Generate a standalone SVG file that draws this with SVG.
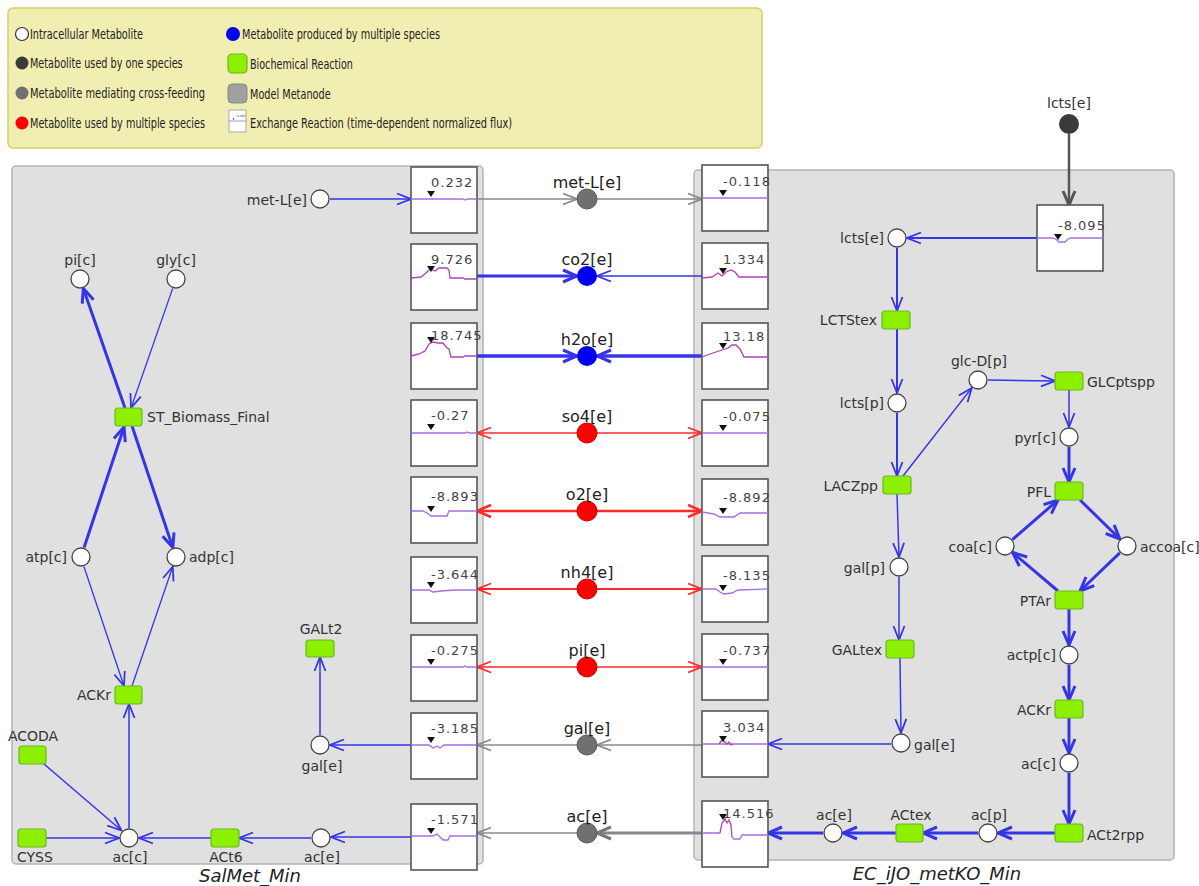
<svg xmlns="http://www.w3.org/2000/svg" width="1199" height="886" viewBox="0 0 1199 886">
<style>
text{font-family:"DejaVu Sans","Liberation Sans",sans-serif;}
.panel{fill:#e0e0e0;stroke:#b4b4b4;stroke-width:1.5;}
.ex{fill:#fff;stroke:#555;stroke-width:1.6;}
.m{fill:#fff;stroke:#444;stroke-width:1.3;}
.rx{fill:#8cf000;stroke:#6cb820;stroke-width:1.2;}
.lbl{font-size:14px;fill:#333;}
.big{font-size:16px;fill:#222;}
.val{font-size:13px;fill:#444;letter-spacing:1px;}
.leg{font-size:13.5px;fill:#222;}
.plot{fill:none;stroke:#a070e0;stroke-width:1.3;}
.plotm{fill:none;stroke:#b040b8;stroke-width:1.3;}
.tri{fill:#111;}
.title{font-size:18px;font-style:italic;fill:#222;}
.eb{stroke:#3535e8;fill:none;}
.er{stroke:#ff2a2a;fill:none;}
.eg{stroke:#888;fill:none;}
.ed{stroke:#555;fill:none;}
</style>
<defs>
<marker id="ab" viewBox="-16 -8 18 16" refX="0" refY="0" markerWidth="18" markerHeight="16" markerUnits="userSpaceOnUse" orient="auto"><path d="M-14,-5.5 L0,0 L-14,5.5" fill="none" stroke="#3535e8" stroke-width="1.8"/></marker>
<marker id="abT" viewBox="-16 -8 18 16" refX="0" refY="0" markerWidth="18" markerHeight="16" markerUnits="userSpaceOnUse" orient="auto"><path d="M-14,-6 L0,0 L-14,6" fill="none" stroke="#3535e8" stroke-width="3"/></marker>
<marker id="ar" viewBox="-16 -8 18 16" refX="0" refY="0" markerWidth="18" markerHeight="16" markerUnits="userSpaceOnUse" orient="auto"><path d="M-14,-5.5 L0,0 L-14,5.5" fill="none" stroke="#ff2a2a" stroke-width="1.8"/></marker>
<marker id="arT" viewBox="-16 -8 18 16" refX="0" refY="0" markerWidth="18" markerHeight="16" markerUnits="userSpaceOnUse" orient="auto"><path d="M-14,-6 L0,0 L-14,6" fill="none" stroke="#ff2a2a" stroke-width="2.6"/></marker>
<marker id="ag" viewBox="-16 -8 18 16" refX="0" refY="0" markerWidth="18" markerHeight="16" markerUnits="userSpaceOnUse" orient="auto"><path d="M-14,-5.5 L0,0 L-14,5.5" fill="none" stroke="#888" stroke-width="1.8"/></marker>
<marker id="agT" viewBox="-16 -8 18 16" refX="0" refY="0" markerWidth="18" markerHeight="16" markerUnits="userSpaceOnUse" orient="auto"><path d="M-14,-6 L0,0 L-14,6" fill="none" stroke="#777" stroke-width="3"/></marker>
<marker id="ad" viewBox="-16 -8 18 16" refX="0" refY="0" markerWidth="18" markerHeight="16" markerUnits="userSpaceOnUse" orient="auto"><path d="M-14,-6 L0,0 L-14,6" fill="none" stroke="#555" stroke-width="3"/></marker>
</defs>
<rect width="1199" height="886" fill="#fff"/>

<!-- Legend -->
<g id="legend">
<rect x="8" y="8" width="754" height="140" rx="5" fill="#f1eeb2" stroke="#d6d06a" stroke-width="1.5"/>
<circle cx="22" cy="34" r="6.5" fill="#fff" stroke="#333" stroke-width="1.2"/>
<text class="leg" transform="translate(30,39) scale(0.72,1)" textLength="157" lengthAdjust="spacingAndGlyphs">Intracellular Metabolite</text>
<circle cx="22" cy="63" r="6.5" fill="#3a3a3a"/>
<text class="leg" transform="translate(30,68) scale(0.72,1)" textLength="212" lengthAdjust="spacingAndGlyphs">Metabolite used by one species</text>
<circle cx="22" cy="93" r="6.5" fill="#707070"/>
<text class="leg" transform="translate(30,98) scale(0.72,1)" textLength="243" lengthAdjust="spacingAndGlyphs">Metabolite mediating cross-feeding</text>
<circle cx="22" cy="123" r="6.5" fill="#f00"/>
<text class="leg" transform="translate(30,128) scale(0.72,1)" textLength="243" lengthAdjust="spacingAndGlyphs">Metabolite used by multiple species</text>
<circle cx="233" cy="34" r="7" fill="#00e"/>
<text class="leg" transform="translate(242,39) scale(0.72,1)" textLength="275" lengthAdjust="spacingAndGlyphs">Metabolite produced by multiple species</text>
<rect x="228" y="54" width="19" height="19" rx="4" class="rx"/>
<text class="leg" transform="translate(250,69) scale(0.72,1)" textLength="143" lengthAdjust="spacingAndGlyphs">Biochemical Reaction</text>
<rect x="228" y="84" width="19" height="19" rx="4" fill="#a0a0a0" stroke="#888" stroke-width="1"/>
<text class="leg" transform="translate(250,99) scale(0.72,1)" textLength="112" lengthAdjust="spacingAndGlyphs">Model Metanode</text>
<rect x="229" y="110" width="17" height="22" fill="#fff" stroke="#999" stroke-width="0.8"/>
<path d="M229,121 H246" stroke="#a070e0" stroke-width="0.8"/>
<path d="M233.5,120 l-1,-1.5 h2 z" fill="#111"/>
<text x="236" y="117" font-size="3" fill="#444">-8.095</text>
<text class="leg" transform="translate(250,128) scale(0.72,1)" textLength="364" lengthAdjust="spacingAndGlyphs">Exchange Reaction (time-dependent normalized flux)</text>
</g>

<!-- Panels -->
<g id="SalMet_Min">
<rect class="panel" x="12" y="166" width="471" height="698" rx="4"/>
<text class="title" x="250" y="882" text-anchor="middle">SalMet_Min</text>
</g>
<g id="EC_iJO_metKO_Min">
<rect class="panel" x="694" y="170" width="480" height="690" rx="4"/>
<text class="title" x="937" y="880" text-anchor="middle">EC_iJO_metKO_Min</text>
</g>

<!-- Connectors -->
<g id="connectors">
<!-- left panel -->
<line class="eb" stroke-width="1.5" x1="330" y1="199" x2="411" y2="199" marker-end="url(#ab)"/>
<line class="eb" stroke-width="1.3" x1="172.7" y1="288.4" x2="131" y2="408" marker-end="url(#ab)"/>
<line class="eb" stroke-width="3" x1="125" y1="408" x2="83.3" y2="288.4" marker-end="url(#abT)"/>
<line class="eb" stroke-width="3" x1="84.1" y1="547.5" x2="124" y2="427" marker-end="url(#abT)"/>
<line class="eb" stroke-width="3" x1="132" y1="426" x2="172.8" y2="547.5" marker-end="url(#abT)"/>
<line class="eb" stroke-width="1.3" x1="83.9" y1="566.5" x2="124" y2="686" marker-end="url(#ab)"/>
<line class="eb" stroke-width="1.3" x1="132" y1="686" x2="172.8" y2="566.5" marker-end="url(#ab)"/>
<line class="eb" stroke-width="1.5" x1="129" y1="828" x2="129" y2="704" marker-end="url(#ab)"/>
<line class="eb" stroke-width="1.5" x1="44" y1="764" x2="121.5" y2="830.5" marker-end="url(#ab)"/>
<line class="eb" stroke-width="1.5" x1="46" y1="838" x2="119" y2="838" marker-end="url(#ab)"/>
<line class="eb" stroke-width="1.5" x1="211" y1="838" x2="139" y2="838" marker-end="url(#ab)"/>
<line class="eb" stroke-width="1.5" x1="311" y1="838" x2="239" y2="838" marker-end="url(#ab)"/>
<line class="eb" stroke-width="1.5" x1="411" y1="837" x2="331" y2="837" marker-end="url(#ab)"/>
<line class="eb" stroke-width="1.5" x1="411" y1="745" x2="330" y2="745" marker-end="url(#ab)"/>
<line class="eb" stroke-width="1.5" x1="320" y1="735" x2="320" y2="657" marker-end="url(#ab)"/>
<!-- middle -->
<line class="eg" stroke-width="1.5" x1="477" y1="199" x2="577" y2="199" marker-end="url(#ag)"/>
<line class="eg" stroke-width="1.5" x1="597" y1="199" x2="702" y2="199" marker-end="url(#ag)"/>
<line class="eb" stroke-width="3" x1="477" y1="276" x2="577" y2="276" marker-end="url(#abT)"/>
<line class="eb" stroke-width="1.5" x1="702" y1="276" x2="597" y2="276" marker-end="url(#ab)"/>
<line class="eb" stroke-width="3.5" x1="477" y1="356" x2="577" y2="356" marker-end="url(#abT)"/>
<line class="eb" stroke-width="3.5" x1="702" y1="356" x2="597" y2="356" marker-end="url(#abT)"/>
<line class="er" stroke-width="1.5" x1="577" y1="433" x2="477" y2="433" marker-end="url(#ar)"/>
<line class="er" stroke-width="1.5" x1="597" y1="433" x2="702" y2="433" marker-end="url(#ar)"/>
<line class="er" stroke-width="2.6" x1="577" y1="511" x2="477" y2="511" marker-end="url(#arT)"/>
<line class="er" stroke-width="2.6" x1="597" y1="511" x2="702" y2="511" marker-end="url(#arT)"/>
<line class="er" stroke-width="2" x1="577" y1="589" x2="477" y2="589" marker-end="url(#ar)"/>
<line class="er" stroke-width="2" x1="597" y1="589" x2="702" y2="589" marker-end="url(#ar)"/>
<line class="er" stroke-width="1.5" x1="577" y1="667" x2="477" y2="667" marker-end="url(#ar)"/>
<line class="er" stroke-width="1.5" x1="597" y1="667" x2="702" y2="667" marker-end="url(#ar)"/>
<line class="eg" stroke-width="1.5" x1="702" y1="745" x2="597" y2="745" marker-end="url(#ag)"/>
<line class="eg" stroke-width="1.5" x1="577" y1="745" x2="477" y2="745" marker-end="url(#ag)"/>
<line class="eg" stroke-width="3" stroke="#777" x1="702" y1="833" x2="597" y2="833" marker-end="url(#agT)"/>
<line class="eg" stroke-width="1.5" x1="577" y1="833" x2="477" y2="833" marker-end="url(#ag)"/>
<!-- right panel -->
<line class="ed" stroke-width="2.5" x1="1069" y1="134" x2="1069" y2="205" marker-end="url(#ad)"/>
<line class="eb" stroke-width="2" x1="1037" y1="238" x2="907" y2="238" marker-end="url(#ab)"/>
<line class="eb" stroke-width="2" x1="897" y1="248" x2="897" y2="311" marker-end="url(#ab)"/>
<line class="eb" stroke-width="2" x1="897" y1="329" x2="897" y2="393" marker-end="url(#ab)"/>
<line class="eb" stroke-width="2" x1="897" y1="413" x2="897" y2="476" marker-end="url(#ab)"/>
<line class="eb" stroke-width="1.5" x1="903" y1="476" x2="971.8" y2="387.9" marker-end="url(#ab)"/>
<line class="eb" stroke-width="1.5" x1="988" y1="380" x2="1055" y2="381" marker-end="url(#ab)"/>
<line class="eb" stroke-width="1.5" x1="1069" y1="390" x2="1069" y2="427" marker-end="url(#ab)"/>
<line class="eb" stroke-width="3" x1="1069" y1="447" x2="1069" y2="482" marker-end="url(#abT)"/>
<line class="eb" stroke-width="3" x1="1080" y1="500" x2="1119.9" y2="539" marker-end="url(#abT)"/>
<line class="eb" stroke-width="3" x1="1012.5" y1="539.5" x2="1058" y2="500" marker-end="url(#abT)"/>
<line class="eb" stroke-width="3" x1="1119.8" y1="552.9" x2="1080" y2="591" marker-end="url(#abT)"/>
<line class="eb" stroke-width="3" x1="1058" y1="591" x2="1012.6" y2="552.5" marker-end="url(#abT)"/>
<line class="eb" stroke-width="3" x1="1069" y1="609" x2="1069" y2="645" marker-end="url(#abT)"/>
<line class="eb" stroke-width="3" x1="1069" y1="665" x2="1069" y2="700" marker-end="url(#abT)"/>
<line class="eb" stroke-width="3" x1="1069" y1="718" x2="1069" y2="753" marker-end="url(#abT)"/>
<line class="eb" stroke-width="3" x1="1069" y1="773" x2="1069" y2="824" marker-end="url(#abT)"/>
<line class="eb" stroke-width="3" x1="1055" y1="833" x2="998" y2="833" marker-end="url(#abT)"/>
<line class="eb" stroke-width="3" x1="978" y1="833" x2="923" y2="833" marker-end="url(#abT)"/>
<line class="eb" stroke-width="3" x1="896" y1="833" x2="843" y2="833" marker-end="url(#abT)"/>
<line class="eb" stroke-width="3" x1="823" y1="833" x2="768" y2="833" marker-end="url(#abT)"/>
<line class="eb" stroke-width="1.5" x1="897" y1="494" x2="899" y2="557" marker-end="url(#ab)"/>
<line class="eb" stroke-width="1.5" x1="899" y1="577" x2="899" y2="640" marker-end="url(#ab)"/>
<line class="eb" stroke-width="1.5" x1="900" y1="658" x2="901" y2="733" marker-end="url(#ab)"/>
<line class="eb" stroke-width="1.5" x1="891" y1="744" x2="768" y2="744" marker-end="url(#ab)"/>
</g>

<!-- Left panel nodes -->
<g id="n_metL_e_L"><circle class="m" cx="320" cy="199" r="9"/><text class="lbl" x="307" y="205" text-anchor="end">met-L[e]</text></g>
<g id="n_pi_c"><circle class="m" cx="80" cy="279" r="9"/><text class="lbl" x="80" y="265" text-anchor="middle">pi[c]</text></g>
<g id="n_gly_c"><circle class="m" cx="176" cy="279" r="9"/><text class="lbl" x="176" y="265" text-anchor="middle">gly[c]</text></g>
<g id="n_ST_Biomass_Final"><rect class="rx" x="115" y="408" width="27" height="18" rx="3"/><text class="lbl" x="147" y="422">ST_Biomass_Final</text></g>
<g id="n_atp_c"><circle class="m" cx="81" cy="557" r="9"/><text class="lbl" x="67" y="562" text-anchor="end">atp[c]</text></g>
<g id="n_adp_c"><circle class="m" cx="176" cy="557" r="9"/><text class="lbl" x="189" y="562">adp[c]</text></g>
<g id="n_ACKr_L"><rect class="rx" x="115" y="686" width="27" height="18" rx="3"/><text class="lbl" x="111" y="700" text-anchor="end">ACKr</text></g>
<g id="n_ACODA"><rect class="rx" x="19" y="746" width="27" height="18" rx="3"/><text class="lbl" x="33" y="741" text-anchor="middle">ACODA</text></g>
<g id="n_CYSS"><rect class="rx" x="18" y="829" width="28" height="18" rx="3"/><text class="lbl" x="17" y="862">CYSS</text></g>
<g id="n_ac_c_L"><circle class="m" cx="129" cy="838" r="9"/><text class="lbl" x="130" y="862" text-anchor="middle">ac[c]</text></g>
<g id="n_ACt6"><rect class="rx" x="211" y="829" width="28" height="18" rx="3"/><text class="lbl" x="226" y="862" text-anchor="middle">ACt6</text></g>
<g id="n_ac_e_L"><circle class="m" cx="321" cy="838" r="9"/><text class="lbl" x="322" y="862" text-anchor="middle">ac[e]</text></g>
<g id="n_gal_e_L"><circle class="m" cx="320" cy="745" r="9"/><text class="lbl" x="322" y="771" text-anchor="middle">gal[e]</text></g>
<g id="n_GALt2"><rect class="rx" x="306" y="640" width="28" height="17" rx="3"/><text class="lbl" x="321" y="634" text-anchor="middle">GALt2</text></g>

<!-- Left exchange boxes -->
<g id="ex_L_metL" transform="translate(411,167)"><rect class="ex" width="66" height="66"/><path class="plot" d="M0,32 H52 L54,33 L56,32 H66"/><path class="tri" d="M16,24 H24 L20,30 Z"/><text class="val" x="20" y="20">0.232</text></g>
<g id="ex_L_co2" transform="translate(411,244)"><rect class="ex" width="66" height="66"/><path class="plotm" d="M0,34 L10,33 L15,29 L19,25 L24,27 L28,24 L36,24 L38,26 L39,34 L52,34 L54,35 L66,35"/><path class="tri" d="M16,22 H24 L20,28 Z"/><text class="val" x="20" y="20">9.726</text></g>
<g id="ex_L_h2o" transform="translate(411,323)"><rect class="ex" width="66" height="66"/><path class="plotm" d="M0,33 L8,31 L14,28 L18,21 L22,19 L27,20 L32,20 L36,25 L38,26 L40,34 L52,34 L54,33 L66,33"/><path class="tri" d="M16,14 H24 L20,20 Z"/><text class="val" x="20" y="17">18.745</text></g>
<g id="ex_L_so4" transform="translate(411,400)"><rect class="ex" width="66" height="66"/><path class="plot" d="M0,33 H54 L56,32 L58,33 H66"/><path class="tri" d="M16,24 H24 L20,30 Z"/><text class="val" x="20" y="20">-0.27</text></g>
<g id="ex_L_o2" transform="translate(411,477)"><rect class="ex" width="66" height="66"/><path class="plot" d="M0,34 L12,34 L16,36 L20,39 L36,39 L38,34 L66,34"/><path class="tri" d="M16,29 H24 L20,35 Z"/><text class="val" x="20" y="24">-8.893</text></g>
<g id="ex_L_nh4" transform="translate(411,557)"><rect class="ex" width="66" height="66"/><path class="plot" d="M0,33 L18,33 L22,35 L30,34 L44,33 L66,33"/><path class="tri" d="M16,25 H24 L20,31 Z"/><text class="val" x="20" y="22">-3.644</text></g>
<g id="ex_L_pi" transform="translate(411,635)"><rect class="ex" width="66" height="66"/><path class="plot" d="M0,32 H52 L54,31 L56,32 H66"/><path class="tri" d="M16,24 H24 L20,30 Z"/><text class="val" x="20" y="20">-0.275</text></g>
<g id="ex_L_gal" transform="translate(411,713)"><rect class="ex" width="66" height="66"/><path class="plot" d="M0,32 L18,32 L22,35 L26,33 L29,35 L33,32 L66,32"/><path class="tri" d="M16,24 H24 L20,30 Z"/><text class="val" x="20" y="20">-3.185</text></g>
<g id="ex_L_ac" transform="translate(411,804)"><rect class="ex" width="66" height="66"/><path class="plot" d="M0,32 L22,32 L26,30 L30,34 L32,36 L37,36 L39,32 L66,32"/><path class="tri" d="M16,24 H24 L20,30 Z"/><text class="val" x="20" y="20">-1.571</text></g>

<!-- Middle metabolites -->
<g id="m_metL"><circle cx="587" cy="199" r="10" fill="#707070" stroke="#5a5a5a"/><text class="big" x="587" y="188" text-anchor="middle">met-L[e]</text></g>
<g id="m_co2"><circle cx="587" cy="276" r="10" fill="#00e"/><text class="big" x="587" y="265" text-anchor="middle">co2[e]</text></g>
<g id="m_h2o"><circle cx="587" cy="356" r="10" fill="#00e"/><text class="big" x="587" y="345" text-anchor="middle">h2o[e]</text></g>
<g id="m_so4"><circle cx="587" cy="433" r="10" fill="#f00" stroke="#c00"/><text class="big" x="587" y="422" text-anchor="middle">so4[e]</text></g>
<g id="m_o2"><circle cx="587" cy="511" r="10" fill="#f00" stroke="#c00"/><text class="big" x="587" y="500" text-anchor="middle">o2[e]</text></g>
<g id="m_nh4"><circle cx="587" cy="589" r="10" fill="#f00" stroke="#c00"/><text class="big" x="587" y="578" text-anchor="middle">nh4[e]</text></g>
<g id="m_pi"><circle cx="587" cy="667" r="10" fill="#f00" stroke="#c00"/><text class="big" x="587" y="656" text-anchor="middle">pi[e]</text></g>
<g id="m_gal"><circle cx="587" cy="745" r="10" fill="#707070" stroke="#5a5a5a"/><text class="big" x="587" y="734" text-anchor="middle">gal[e]</text></g>
<g id="m_ac"><circle cx="587" cy="833" r="10" fill="#707070" stroke="#5a5a5a"/><text class="big" x="587" y="822" text-anchor="middle">ac[e]</text></g>

<!-- Right exchange boxes -->
<g id="ex_R_metL" transform="translate(702,165)"><rect class="ex" width="66" height="66"/><path class="plot" d="M0,33 H66"/><path class="tri" d="M17,25 H25 L21,31 Z"/><text class="val" x="21" y="21">-0.118</text></g>
<g id="ex_R_co2" transform="translate(702,243)"><rect class="ex" width="66" height="66"/><path class="plotm" d="M0,35 L10,34 L16,30 L20,33 L24,29 L29,27 L33,29 L37,34 L66,34"/><path class="tri" d="M17,25 H25 L21,31 Z"/><text class="val" x="21" y="21">1.334</text></g>
<g id="ex_R_h2o" transform="translate(702,323)"><rect class="ex" width="66" height="66"/><path class="plotm" d="M0,34 L8,31 L14,29 L20,27 L26,25 L30,22 L34,22 L38,26 L42,34 L66,34"/><path class="tri" d="M17,20 H25 L21,26 Z"/><text class="val" x="21" y="18">13.18</text></g>
<g id="ex_R_so4" transform="translate(702,400)"><rect class="ex" width="66" height="66"/><path class="plot" d="M0,33 H66"/><path class="tri" d="M17,25 H25 L21,31 Z"/><text class="val" x="21" y="21">-0.075</text></g>
<g id="ex_R_o2" transform="translate(702,479)"><rect class="ex" width="66" height="66"/><path class="plot" d="M0,33 L12,35 L18,38 L32,38 L38,34 L66,34"/><path class="tri" d="M17,29 H25 L21,35 Z"/><text class="val" x="21" y="23">-8.892</text></g>
<g id="ex_R_nh4" transform="translate(702,556)"><rect class="ex" width="66" height="66"/><path class="plot" d="M0,33 L14,33 L18,36 L22,38 L30,37 L36,34 L66,33"/><path class="tri" d="M17,29 H25 L21,35 Z"/><text class="val" x="21" y="24">-8.135</text></g>
<g id="ex_R_pi" transform="translate(702,634)"><rect class="ex" width="66" height="66"/><path class="plot" d="M0,33 H66"/><path class="tri" d="M17,25 H25 L21,31 Z"/><text class="val" x="21" y="21">-0.737</text></g>
<g id="ex_R_gal" transform="translate(702,711)"><rect class="ex" width="66" height="66"/><path class="plot" d="M0,33 H66"/><path class="plotm" d="M17,33 L20,29 L23,31 L25,33 L27,31 L29,34 L31,33"/><path class="tri" d="M17,25 H25 L21,31 Z"/><text class="val" x="21" y="21">3.034</text></g>
<g id="ex_R_ac" transform="translate(702,801)"><rect class="ex" width="66" height="66"/><path class="plot" d="M0,32 L18,32 M30,36 L32,38 L38,38 L40,34 L66,34"/><path class="plotm" d="M18,32 L20,22 L23,18 L25,22 L27,19 L29,24 L30,36"/><path class="tri" d="M17,13 H25 L21,19 Z"/><text class="val" x="21" y="17">14.516</text></g>

<!-- Right panel nodes -->
<g id="n_lcts_e_out"><circle cx="1069" cy="124" r="10" fill="#3a3a3a"/><text class="lbl" x="1069" y="108" text-anchor="middle">lcts[e]</text></g>
<g id="ex_R_lcts" transform="translate(1037,205)"><rect class="ex" width="66" height="66"/><path class="plot" d="M0,33 L16,33 L20,35 L22,37 L28,37 L31,34 L34,33 L66,33"/><path class="tri" d="M17,29 H25 L21,35 Z"/><text class="val" x="21" y="25">-8.095</text></g>
<g id="n_lcts_e"><circle class="m" cx="897" cy="238" r="9"/><text class="lbl" x="884" y="243" text-anchor="end">lcts[e]</text></g>
<g id="n_LCTStex"><rect class="rx" x="882" y="311" width="28" height="18" rx="3"/><text class="lbl" x="877" y="325" text-anchor="end">LCTStex</text></g>
<g id="n_lcts_p"><circle class="m" cx="897" cy="403" r="9"/><text class="lbl" x="884" y="408" text-anchor="end">lcts[p]</text></g>
<g id="n_LACZpp"><rect class="rx" x="883" y="476" width="28" height="18" rx="3"/><text class="lbl" x="878" y="491" text-anchor="end">LACZpp</text></g>
<g id="n_glcD_p"><circle class="m" cx="978" cy="380" r="9"/><text class="lbl" x="979" y="366" text-anchor="middle">glc-D[p]</text></g>
<g id="n_GLCptspp"><rect class="rx" x="1055" y="372" width="28" height="18" rx="3"/><text class="lbl" x="1087" y="387">GLCptspp</text></g>
<g id="n_pyr_c"><circle class="m" cx="1069" cy="437" r="9"/><text class="lbl" x="1056" y="443" text-anchor="end">pyr[c]</text></g>
<g id="n_PFL"><rect class="rx" x="1055" y="482" width="28" height="18" rx="3"/><text class="lbl" x="1051" y="497" text-anchor="end">PFL</text></g>
<g id="n_coa_c"><circle class="m" cx="1005" cy="546" r="9"/><text class="lbl" x="992" y="552" text-anchor="end">coa[c]</text></g>
<g id="n_accoa_c"><circle class="m" cx="1127" cy="546" r="9"/><text class="lbl" x="1140" y="552">accoa[c]</text></g>
<g id="n_PTAr"><rect class="rx" x="1055" y="591" width="28" height="18" rx="3"/><text class="lbl" x="1051" y="606" text-anchor="end">PTAr</text></g>
<g id="n_actp_c"><circle class="m" cx="1069" cy="655" r="9"/><text class="lbl" x="1056" y="660" text-anchor="end">actp[c]</text></g>
<g id="n_ACKr_R"><rect class="rx" x="1055" y="700" width="28" height="18" rx="3"/><text class="lbl" x="1051" y="715" text-anchor="end">ACKr</text></g>
<g id="n_ac_c_R"><circle class="m" cx="1069" cy="763" r="9"/><text class="lbl" x="1056" y="769" text-anchor="end">ac[c]</text></g>
<g id="n_ACt2rpp"><rect class="rx" x="1055" y="824" width="28" height="18" rx="3"/><text class="lbl" x="1087" y="840">ACt2rpp</text></g>
<g id="n_ac_p"><circle class="m" cx="988" cy="833" r="9"/><text class="lbl" x="989" y="820" text-anchor="middle">ac[p]</text></g>
<g id="n_ACtex"><rect class="rx" x="896" y="824" width="27" height="18" rx="3"/><text class="lbl" x="911" y="820" text-anchor="middle">ACtex</text></g>
<g id="n_ac_e_R"><circle class="m" cx="833" cy="833" r="9"/><text class="lbl" x="834" y="820" text-anchor="middle">ac[e]</text></g>
<g id="n_gal_p"><circle class="m" cx="899" cy="567" r="9"/><text class="lbl" x="885" y="573" text-anchor="end">gal[p]</text></g>
<g id="n_GALtex"><rect class="rx" x="886" y="640" width="28" height="18" rx="3"/><text class="lbl" x="882" y="655" text-anchor="end">GALtex</text></g>
<g id="n_gal_e_R"><circle class="m" cx="901" cy="743" r="9"/><text class="lbl" x="914" y="750">gal[e]</text></g>
</svg>
